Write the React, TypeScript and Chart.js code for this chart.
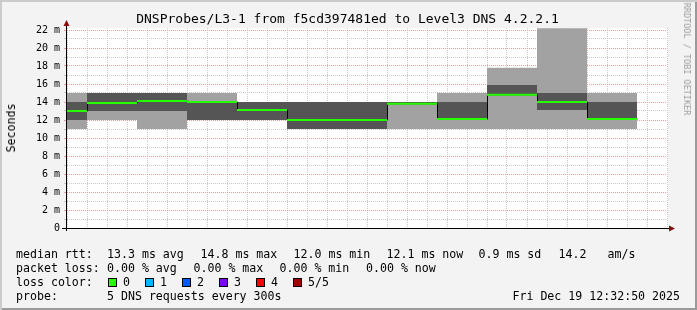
import React, { useEffect, useRef } from "react";
import { Chart, registerables } from "chart.js";

Chart.register(...registerables);

// ---------- text ----------
const TITLE = "DNSProbes/L3-1 from f5cd397481ed to Level3 DNS 4.2.2.1";
const Y_TITLE = "Seconds";
const WATERMARK = "RRDTOOL / TOBI OETIKER";

// ---------- data (time = minutes after 11:00, 5-minute RRD step) ----------
const SAMPLE_END = [35, 40, 45, 50, 55, 60, 65, 70, 75, 80, 85, 90];
const STEP = 5;
const X_MIN = 33;
const X_MAX = 93;

// sorted ping round-trip times per sample (ms)
const PING_1 = [11.0, 12.0, 11.0, 12.0, 12.0, 11.0, 11.0, 11.0, 11.0, 11.0, 11.0, 11.0];
const PING_2 = [12.0, 13.0, 13.0, 12.0, 12.0, 11.0, 11.0, 13.8, 12.1, 14.8, 13.1, 12.1];
const MEDIAN = [13.0, 13.9, 14.1, 14.0, 13.1, 12.0, 12.0, 13.8, 12.1, 14.8, 14.0, 12.1];
const PING_4 = [14.0, 15.0, 15.0, 14.0, 14.0, 14.0, 14.0, 14.0, 14.0, 15.9, 15.0, 14.0];
const PING_5 = [15.0, 15.0, 15.0, 15.0, 14.0, 14.0, 14.0, 14.0, 15.0, 17.8, 22.2, 15.0];

const X_TICK_VALUES = [40, 50, 60, 70, 80, 90];
const X_TICK_LABELS = ["11:40", "11:50", "12:00", "12:10", "12:20", "12:30"];
const Y_TICK_VALUES = [0, 2, 4, 6, 8, 10, 12, 14, 16, 18, 20, 22];
const Y_TICK_LABELS = ["0", "2 m", "4 m", "6 m", "8 m", "10 m", "12 m", "14 m", "16 m", "18 m", "20 m", "22 m"];
const Y_MAX = 200 / 9;

// ---------- legend ----------
const MEDIAN_STATS = ["13.3 ms avg", "14.8 ms max", "12.0 ms min", "12.1 ms now", "0.9 ms sd", "14.2", "am/s"];
const LOSS_STATS = ["0.00 % avg", "0.00 % max", "0.00 % min", "0.00 % now"];
const LOSS_LABELS = ["0", "1", "2", "3", "4", "5/5"];
const LOSS_COLORS = ["#26ff00", "#00b8ff", "#0059ff", "#7e00ff", "#ff0000", "#a10000"];
const PROBE_TEXT = "5 DNS requests every 300s";
const DATE_TEXT = "Fri Dec 19 12:32:50 2025";

// ---------- styles ----------
const MONO = '"DejaVu Sans Mono", monospace';
const LIGHT_SMOKE = "#a2a2a2";
const DARK_SMOKE = "#555555";
const MINOR_GRID = "#c8c8c8";
const MAJOR_GRID = "#e8a0a0";
const ARROW = "#8e0b0b";

const stepLine = (vals: number[]) =>
  SAMPLE_END.flatMap((t, i) => [
    { x: t - STEP, y: vals[i] },
    { x: t, y: vals[i] },
  ]);

const stepPieces = (vals: number[]) =>
  SAMPLE_END.flatMap((t, i) => [
    { x: t - STEP, y: vals[i] },
    { x: t, y: vals[i] },
    { x: t, y: null as any },
  ]);

const smoke = (vals: number[], color: string | null, order: number) => ({
  type: "line" as const,
  data: stepLine(vals),
  borderWidth: 0,
  borderColor: "rgba(0,0,0,0)",
  backgroundColor: color || "rgba(0,0,0,0)",
  fill: color ? "-1" : false,
  pointRadius: 0,
  tension: 0,
  order,
});

const rrdPlugin = {
  id: "rrdCanvas",
  beforeDraw(chart: any) {
    const { ctx, chartArea: a } = chart;
    ctx.save();
    ctx.fillStyle = "#ffffff";
    ctx.fillRect(a.left, a.top, a.right - a.left + 1, a.bottom - a.top);
    ctx.restore();
  },
  beforeDatasetDraw(chart: any, args: any) {
    if (args.index === 1) {
      chart.ctx.save();
      chart.ctx.translate(0.5, 0);
    }
  },
  afterDatasetDraw(chart: any, args: any) {
    if (args.index === 1) chart.ctx.restore();
  },
  afterDraw(chart: any) {
    const { ctx, chartArea: a } = chart;
    ctx.save();
    ctx.strokeStyle = "#000000";
    ctx.lineWidth = 1;
    ctx.beginPath();
    ctx.moveTo(a.left - 5, a.bottom + 0.5);
    ctx.lineTo(a.right + 3, a.bottom + 0.5);
    ctx.moveTo(a.left - 0.5, a.bottom + 3);
    ctx.lineTo(a.left - 0.5, a.top - 3);
    ctx.stroke();
    ctx.fillStyle = ARROW;
    ctx.beginPath();
    ctx.moveTo(a.right + 2, a.bottom - 2.5);
    ctx.lineTo(a.right + 8, a.bottom + 0.5);
    ctx.lineTo(a.right + 2, a.bottom + 3.5);
    ctx.closePath();
    ctx.fill();
    ctx.beginPath();
    ctx.moveTo(a.left - 3.5, a.top - 2);
    ctx.lineTo(a.left - 0.5, a.top - 8);
    ctx.lineTo(a.left + 2.5, a.top - 2);
    ctx.closePath();
    ctx.fill();
    ctx.restore();
  },
};

export default function App() {
  const ref = useRef<HTMLCanvasElement>(null);

  useEffect(() => {
    const canvas = ref.current;
    if (!canvas) return;
    const chart = new Chart(canvas, {
      type: "line",
      data: {
        datasets: [
          {
            type: "line",
            data: stepPieces(MEDIAN),
            borderColor: LOSS_COLORS[0],
            borderWidth: 2,
            pointRadius: 0,
            tension: 0,
            spanGaps: false,
            fill: false,
            clip: 0,
            order: 0,
          } as any,
          {
            type: "line",
            data: stepLine(MEDIAN),
            borderColor: "#000000",
            borderWidth: 1,
            pointRadius: 0,
            tension: 0,
            fill: false,
            clip: 0,
            order: 1,
          } as any,
          smoke(PING_1, null, 10),
          smoke(PING_2, LIGHT_SMOKE, 9),
          smoke(MEDIAN, DARK_SMOKE, 8),
          smoke(PING_4, DARK_SMOKE, 7),
          smoke(PING_5, LIGHT_SMOKE, 6),
        ] as any,
      },
      options: {
        responsive: false,
        animation: false,
        devicePixelRatio: 1,
        events: [],
        layout: { padding: { left: 0, top: 28, right: 30, bottom: 0 } },
        plugins: {
          legend: { display: false },
          tooltip: { enabled: false },
          title: { display: false },
          filler: { propagate: false },
        },
        scales: {
          x: {
            type: "linear",
            position: "bottom",
            min: X_MIN,
            max: X_MAX,
            afterFit: (s: any) => {
              s.height = 82;
            },
            ticks: {
              stepSize: 2,
              includeBounds: false,
              autoSkip: false,
              maxRotation: 0,
              minRotation: 0,
              padding: 4,
              color: "#000000",
              font: { family: MONO, size: 10 },
              callback: (v: any) => {
                const i = X_TICK_VALUES.indexOf(Number(v));
                return i >= 0 ? X_TICK_LABELS[i] : "";
              },
            },
            grid: {
              drawTicks: false,
              lineWidth: 1,
              color: (c: any) =>
                c.tick && X_TICK_VALUES.includes(c.tick.value) ? MAJOR_GRID : MINOR_GRID,
            },
            border: { display: false, dash: [1, 1] },
          },
          y: {
            type: "linear",
            position: "left",
            min: 0,
            max: Y_MAX,
            afterFit: (s: any) => {
              s.width = 67;
            },
            ticks: {
              stepSize: 1,
              includeBounds: false,
              autoSkip: false,
              padding: 4,
              color: "#000000",
              font: { family: MONO, size: 10 },
              callback: (v: any) => {
                const i = Y_TICK_VALUES.indexOf(Number(v));
                return i >= 0 ? Y_TICK_LABELS[i] : "";
              },
            },
            grid: {
              drawTicks: true,
              tickLength: 3,
              lineWidth: 1,
              color: (c: any) =>
                c.tick && Y_TICK_VALUES.includes(c.tick.value) ? MAJOR_GRID : MINOR_GRID,
              tickColor: (c: any) =>
                c.tick && Y_TICK_VALUES.includes(c.tick.value) ? MAJOR_GRID : MINOR_GRID,
            },
            border: { display: false, dash: [1, 1] },
          },
        },
      } as any,
      plugins: [rrdPlugin],
    });
    return () => chart.destroy();
  }, []);

  const txt: React.CSSProperties = {
    position: "absolute",
    fontFamily: MONO,
    fontSize: "11.6px",
    lineHeight: "14px",
    whiteSpace: "pre",
    color: "#000",
  };
  const row1X = [107, 200.5, 293.5, 386.5, 478.5, 558.5, 607.5];
  const row2X = [107, 193.5, 279.5, 366];

  return (
    <div
      style={{
        position: "fixed",
        left: 0,
        top: 0,
        width: 697,
        height: 310,
        overflow: "hidden",
        background: "#f3f3f3",
        boxShadow: "inset 2px 2px 0 #cbcbcb, inset -2px -2px 0 #9a9a9a",
      }}
    >
      <canvas
        ref={ref}
        width={697}
        height={310}
        style={{ position: "absolute", left: 0, top: 0, width: 697, height: 310 }}
      />
      <div
        style={{
          position: "absolute",
          left: 0,
          top: 11,
          width: 695,
          textAlign: "center",
          fontFamily: MONO,
          fontSize: "13px",
          lineHeight: "16px",
          whiteSpace: "pre",
          color: "#000",
        }}
      >
        {TITLE}
      </div>
      <div
        style={{
          ...txt,
          left: 10.5,
          top: 128,
          transform: "translate(-50%, -50%) rotate(-90deg)",
        }}
      >
        {Y_TITLE}
      </div>
      <div
        style={{
          ...txt,
          fontSize: "8.5px",
          lineHeight: "10px",
          color: "#9c9c9c",
          left: 687,
          top: 59,
          transform: "translate(-50%, -50%) rotate(90deg)",
        }}
      >
        {WATERMARK}
      </div>

      <div style={{ ...txt, left: 16, top: 247 }}>median rtt:</div>
      {MEDIAN_STATS.map((s, i) => (
        <div key={"m" + i} style={{ ...txt, left: row1X[i], top: 247 }}>
          {s}
        </div>
      ))}

      <div style={{ ...txt, left: 16, top: 261 }}>packet loss:</div>
      {LOSS_STATS.map((s, i) => (
        <div key={"l" + i} style={{ ...txt, left: row2X[i], top: 261 }}>
          {s}
        </div>
      ))}

      <div style={{ ...txt, left: 16, top: 275 }}>loss color:</div>
      {LOSS_LABELS.map((s, i) => (
        <React.Fragment key={"c" + i}>
          <div
            style={{
              position: "absolute",
              left: 108 + 37 * i,
              top: 278,
              width: 9,
              height: 9,
              boxSizing: "border-box",
              border: "1px solid #000",
              background: LOSS_COLORS[i],
            }}
          />
          <div style={{ ...txt, left: 123 + 37 * i, top: 275 }}>{s}</div>
        </React.Fragment>
      ))}

      <div style={{ ...txt, left: 16, top: 289 }}>probe:</div>
      <div style={{ ...txt, left: 107, top: 289 }}>{PROBE_TEXT}</div>
      <div style={{ ...txt, right: 17, top: 289 }}>{DATE_TEXT}</div>
    </div>
  );
}
